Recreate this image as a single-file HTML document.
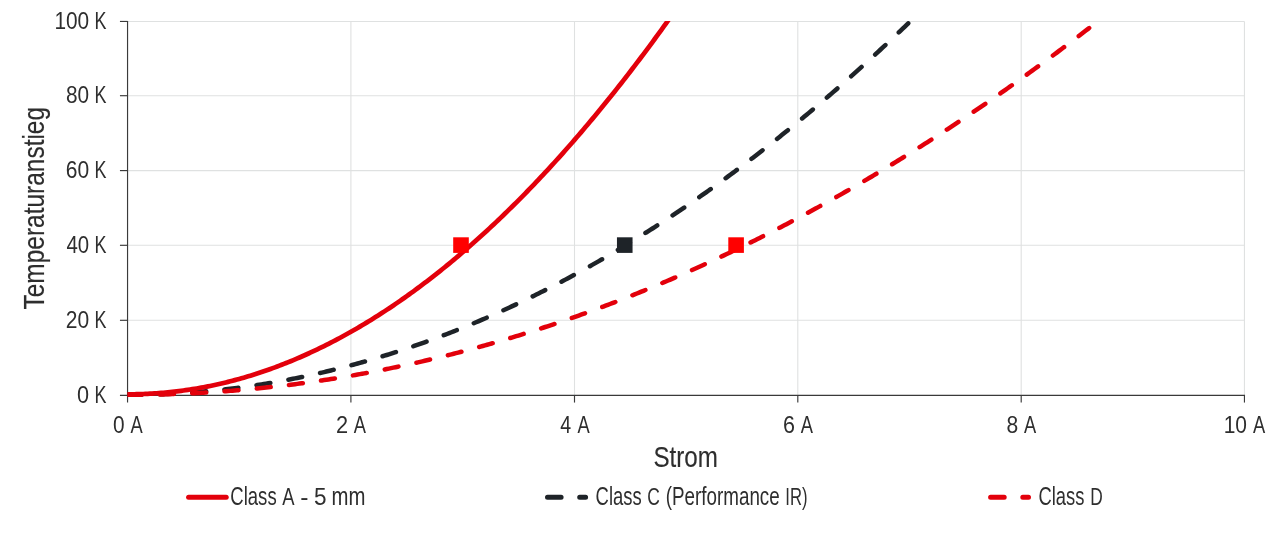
<!DOCTYPE html><html><head><meta charset="utf-8"><title>Temperaturanstieg / Strom</title>
<style>html,body{margin:0;padding:0;background:#fff}svg{display:block}text{font-family:"Liberation Sans",sans-serif;fill:#2e2e2e}</style></head><body>
<svg width="1280" height="537" viewBox="0 0 1280 537">
<rect width="1280" height="537" fill="#fff"/>
<line x1="127.55" y1="320.30" x2="1244.45" y2="320.30" stroke="#dfe1e1" stroke-width="1.1"/>
<line x1="127.55" y1="245.30" x2="1244.45" y2="245.30" stroke="#dfe1e1" stroke-width="1.1"/>
<line x1="127.55" y1="170.60" x2="1244.45" y2="170.60" stroke="#dfe1e1" stroke-width="1.1"/>
<line x1="127.55" y1="95.70" x2="1244.45" y2="95.70" stroke="#dfe1e1" stroke-width="1.1"/>
<line x1="127.55" y1="21.45" x2="1244.45" y2="21.45" stroke="#dfe1e1" stroke-width="1.1"/>
<line x1="350.90" y1="21.45" x2="350.90" y2="395.30" stroke="#dfe1e1" stroke-width="1.1"/>
<line x1="574.50" y1="21.45" x2="574.50" y2="395.30" stroke="#dfe1e1" stroke-width="1.1"/>
<line x1="797.80" y1="21.45" x2="797.80" y2="395.30" stroke="#dfe1e1" stroke-width="1.1"/>
<line x1="1021.20" y1="21.45" x2="1021.20" y2="395.30" stroke="#dfe1e1" stroke-width="1.1"/>
<line x1="1244.45" y1="21.45" x2="1244.45" y2="395.30" stroke="#dfe1e1" stroke-width="1.1"/>
<g stroke="#3a3a3a" stroke-width="1.15">
<line x1="127.55" y1="20.88" x2="127.55" y2="402.55"/>
<line x1="119.95" y1="395.35" x2="1245.03" y2="395.35"/>
<line x1="119.95" y1="320.30" x2="127.55" y2="320.30"/>
<line x1="119.95" y1="245.30" x2="127.55" y2="245.30"/>
<line x1="119.95" y1="170.60" x2="127.55" y2="170.60"/>
<line x1="119.95" y1="95.70" x2="127.55" y2="95.70"/>
<line x1="119.95" y1="21.45" x2="127.55" y2="21.45"/>
<line x1="350.90" y1="395.35" x2="350.90" y2="402.55"/>
<line x1="574.50" y1="395.35" x2="574.50" y2="402.55"/>
<line x1="797.80" y1="395.35" x2="797.80" y2="402.55"/>
<line x1="1021.20" y1="395.35" x2="1021.20" y2="402.55"/>
<line x1="1244.45" y1="395.35" x2="1244.45" y2="402.55"/>
</g>
<clipPath id="c"><rect x="127.55" y="20.95" width="1122.90" height="378.85"/></clipPath>
<g clip-path="url(#c)" fill="none" stroke-width="4.5" stroke-linecap="round" stroke-linejoin="round">
<path d="M127.55,394.85 L129.78,394.85 L132.02,394.84 L134.25,394.83 L136.49,394.81 L138.72,394.78 L140.95,394.75 L143.19,394.72 L145.42,394.67 L147.65,394.63 L149.89,394.57 L152.12,394.51 L154.36,394.45 L156.59,394.38 L158.82,394.30 L161.06,394.22 L163.29,394.13 L165.52,394.03 L167.76,393.93 L169.99,393.83 L172.23,393.72 L174.46,393.60 L176.69,393.47 L178.93,393.34 L181.16,393.21 L183.40,393.07 L185.63,392.92 L187.86,392.77 L190.10,392.61 L192.33,392.44 L194.56,392.27 L196.80,392.09 L199.03,391.91 L201.27,391.72 L203.50,391.53 L205.73,391.33 L207.97,391.12 L210.20,390.91 L212.43,390.69 L214.67,390.46 L216.90,390.23 L219.14,390.00 L221.37,389.75 L223.60,389.50 L225.84,389.25 L228.07,388.99 L230.30,388.72 L232.54,388.45 L234.77,388.17 L237.01,387.89 L239.24,387.59 L241.47,387.30 L243.71,387.00 L245.94,386.69 L248.18,386.37 L250.41,386.05 L252.64,385.72 L254.88,385.39 L257.11,385.05 L259.34,384.71 L261.58,384.36 L263.81,384.00 L266.05,383.64 L268.28,383.27 L270.51,382.89 L272.75,382.51 L274.98,382.12 L277.21,381.73 L279.45,381.33 L281.68,380.93 L283.92,380.51 L286.15,380.10 L288.38,379.67 L290.62,379.24 L292.85,378.81 L295.09,378.36 L297.32,377.92 L299.55,377.46 L301.79,377.00 L304.02,376.54 L306.25,376.06 L308.49,375.59 L310.72,375.10 L312.96,374.61 L315.19,374.11 L317.42,373.61 L319.66,373.10 L321.89,372.59 L324.12,372.07 L326.36,371.54 L328.59,371.01 L330.83,370.47 L333.06,369.92 L335.29,369.37 L337.53,368.81 L339.76,368.25 L341.99,367.68 L344.23,367.10 L346.46,366.52 L348.70,365.93 L350.93,365.34 L353.16,364.74 L355.40,364.13 L357.63,363.52 L359.87,362.90 L362.10,362.28 L364.33,361.64 L366.57,361.01 L368.80,360.36 L371.03,359.71 L373.27,359.06 L375.50,358.40 L377.74,357.73 L379.97,357.06 L382.20,356.38 L384.44,355.69 L386.67,355.00 L388.90,354.30 L391.14,353.59 L393.37,352.88 L395.61,352.17 L397.84,351.44 L400.07,350.71 L402.31,349.98 L404.54,349.24 L406.78,348.49 L409.01,347.74 L411.24,346.98 L413.48,346.21 L415.71,345.44 L417.94,344.66 L420.18,343.88 L422.41,343.08 L424.65,342.29 L426.88,341.49 L429.11,340.68 L431.35,339.86 L433.58,339.04 L435.81,338.21 L438.05,337.38 L440.28,336.54 L442.52,335.69 L444.75,334.84 L446.98,333.98 L449.22,333.12 L451.45,332.25 L453.68,331.37 L455.92,330.49 L458.15,329.60 L460.39,328.70 L462.62,327.80 L464.85,326.89 L467.09,325.98 L469.32,325.06 L471.56,324.13 L473.79,323.20 L476.02,322.26 L478.26,321.31 L480.49,320.36 L482.72,319.41 L484.96,318.44 L487.19,317.47 L489.43,316.50 L491.66,315.51 L493.89,314.53 L496.13,313.53 L498.36,312.53 L500.59,311.52 L502.83,310.51 L505.06,309.49 L507.30,308.47 L509.53,307.44 L511.76,306.40 L514.00,305.35 L516.23,304.30 L518.47,303.25 L520.70,302.18 L522.93,301.12 L525.17,300.04 L527.40,298.96 L529.63,297.87 L531.87,296.78 L534.10,295.68 L536.34,294.57 L538.57,293.46 L540.80,292.34 L543.04,291.22 L545.27,290.09 L547.50,288.95 L549.74,287.81 L551.97,286.66 L554.21,285.50 L556.44,284.34 L558.67,283.17 L560.91,282.00 L563.14,280.82 L565.37,279.63 L567.61,278.44 L569.84,277.24 L572.08,276.03 L574.31,274.82 L576.54,273.60 L578.78,272.38 L581.01,271.15 L583.25,269.91 L585.48,268.67 L587.71,267.42 L589.95,266.17 L592.18,264.90 L594.41,263.64 L596.65,262.36 L598.88,261.08 L601.12,259.80 L603.35,258.50 L605.58,257.20 L607.82,255.90 L610.05,254.59 L612.28,253.27 L614.52,251.95 L616.75,250.62 L618.99,249.28 L621.22,247.94 L623.45,246.59 L625.69,245.24 L627.92,243.87 L630.15,242.51 L632.39,241.13 L634.62,239.75 L636.86,238.37 L639.09,236.98 L641.32,235.58 L643.56,234.17 L645.79,232.76 L648.03,231.34 L650.26,229.92 L652.49,228.49 L654.73,227.06 L656.96,225.61 L659.19,224.16 L661.43,222.71 L663.66,221.25 L665.90,219.78 L668.13,218.31 L670.36,216.83 L672.60,215.34 L674.83,213.85 L677.06,212.35 L679.30,210.85 L681.53,209.34 L683.77,207.82 L686.00,206.30 L688.23,204.77 L690.47,203.23 L692.70,201.69 L694.94,200.14 L697.17,198.59 L699.40,197.02 L701.64,195.46 L703.87,193.88 L706.10,192.30 L708.34,190.72 L710.57,189.13 L712.81,187.53 L715.04,185.92 L717.27,184.31 L719.51,182.69 L721.74,181.07 L723.97,179.44 L726.21,177.81 L728.44,176.16 L730.68,174.51 L732.91,172.86 L735.14,171.20 L737.38,169.53 L739.61,167.86 L741.84,166.18 L744.08,164.49 L746.31,162.80 L748.55,161.10 L750.78,159.39 L753.01,157.68 L755.25,155.97 L757.48,154.24 L759.72,152.51 L761.95,150.78 L764.18,149.03 L766.42,147.28 L768.65,145.53 L770.88,143.77 L773.12,142.00 L775.35,140.23 L777.59,138.45 L779.82,136.66 L782.05,134.87 L784.29,133.07 L786.52,131.26 L788.75,129.45 L790.99,127.63 L793.22,125.81 L795.46,123.98 L797.69,122.14 L799.92,120.30 L802.16,118.45 L804.39,116.59 L806.63,114.73 L808.86,112.86 L811.09,110.99 L813.33,109.11 L815.56,107.22 L817.79,105.33 L820.03,103.43 L822.26,101.52 L824.50,99.61 L826.73,97.69 L828.96,95.77 L831.20,93.84 L833.43,91.90 L835.66,89.96 L837.90,88.01 L840.13,86.05 L842.37,84.09 L844.60,82.12 L846.83,80.14 L849.07,78.16 L851.30,76.17 L853.53,74.18 L855.77,72.18 L858.00,70.17 L860.24,68.16 L862.47,66.14 L864.70,64.12 L866.94,62.08 L869.17,60.05 L871.41,58.00 L873.64,55.95 L875.87,53.90 L878.11,51.83 L880.34,49.76 L882.57,47.69 L884.81,45.61 L887.04,43.52 L889.28,41.42 L891.51,39.32 L893.74,37.21 L895.98,35.10 L898.21,32.98 L900.44,30.85 L902.68,28.72 L904.91,26.58 L907.15,24.44 L908.26,23.36" stroke="#1e2328" stroke-dasharray="14 18.36"/>
<path d="M127.55,394.85 L129.78,394.85 L132.02,394.84 L134.25,394.84 L136.49,394.82 L138.72,394.81 L140.95,394.79 L143.19,394.76 L145.42,394.74 L147.65,394.71 L149.89,394.67 L152.12,394.63 L154.36,394.59 L156.59,394.54 L158.82,394.49 L161.06,394.44 L163.29,394.38 L165.52,394.32 L167.76,394.26 L169.99,394.19 L172.23,394.12 L174.46,394.04 L176.69,393.96 L178.93,393.88 L181.16,393.79 L183.40,393.70 L185.63,393.60 L187.86,393.50 L190.10,393.40 L192.33,393.29 L194.56,393.18 L196.80,393.07 L199.03,392.95 L201.27,392.82 L203.50,392.70 L205.73,392.57 L207.97,392.43 L210.20,392.30 L212.43,392.15 L214.67,392.01 L216.90,391.86 L219.14,391.71 L221.37,391.55 L223.60,391.39 L225.84,391.22 L228.07,391.05 L230.30,390.88 L232.54,390.71 L234.77,390.52 L237.01,390.34 L239.24,390.15 L241.47,389.96 L243.71,389.76 L245.94,389.56 L248.18,389.36 L250.41,389.15 L252.64,388.94 L254.88,388.72 L257.11,388.51 L259.34,388.28 L261.58,388.05 L263.81,387.82 L266.05,387.59 L268.28,387.35 L270.51,387.11 L272.75,386.86 L274.98,386.61 L277.21,386.35 L279.45,386.10 L281.68,385.83 L283.92,385.57 L286.15,385.30 L288.38,385.02 L290.62,384.74 L292.85,384.46 L295.09,384.17 L297.32,383.88 L299.55,383.59 L301.79,383.29 L304.02,382.99 L306.25,382.68 L308.49,382.37 L310.72,382.06 L312.96,381.74 L315.19,381.42 L317.42,381.10 L319.66,380.77 L321.89,380.43 L324.12,380.10 L326.36,379.75 L328.59,379.41 L330.83,379.06 L333.06,378.71 L335.29,378.35 L337.53,377.99 L339.76,377.62 L341.99,377.25 L344.23,376.88 L346.46,376.50 L348.70,376.12 L350.93,375.74 L353.16,375.35 L355.40,374.96 L357.63,374.56 L359.87,374.16 L362.10,373.76 L364.33,373.35 L366.57,372.93 L368.80,372.52 L371.03,372.10 L373.27,371.67 L375.50,371.24 L377.74,370.81 L379.97,370.37 L382.20,369.93 L384.44,369.49 L386.67,369.04 L388.90,368.59 L391.14,368.13 L393.37,367.67 L395.61,367.21 L397.84,366.74 L400.07,366.27 L402.31,365.79 L404.54,365.31 L406.78,364.83 L409.01,364.34 L411.24,363.85 L413.48,363.35 L415.71,362.85 L417.94,362.35 L420.18,361.84 L422.41,361.33 L424.65,360.81 L426.88,360.29 L429.11,359.77 L431.35,359.24 L433.58,358.71 L435.81,358.17 L438.05,357.63 L440.28,357.09 L442.52,356.54 L444.75,355.99 L446.98,355.43 L449.22,354.87 L451.45,354.31 L453.68,353.74 L455.92,353.17 L458.15,352.59 L460.39,352.01 L462.62,351.43 L464.85,350.84 L467.09,350.25 L469.32,349.65 L471.56,349.05 L473.79,348.45 L476.02,347.84 L478.26,347.23 L480.49,346.61 L482.72,345.99 L484.96,345.37 L487.19,344.74 L489.43,344.11 L491.66,343.47 L493.89,342.83 L496.13,342.19 L498.36,341.54 L500.59,340.89 L502.83,340.23 L505.06,339.57 L507.30,338.91 L509.53,338.24 L511.76,337.57 L514.00,336.89 L516.23,336.21 L518.47,335.53 L520.70,334.84 L522.93,334.15 L525.17,333.45 L527.40,332.75 L529.63,332.05 L531.87,331.34 L534.10,330.63 L536.34,329.91 L538.57,329.19 L540.80,328.47 L543.04,327.74 L545.27,327.01 L547.50,326.27 L549.74,325.53 L551.97,324.78 L554.21,324.04 L556.44,323.28 L558.67,322.53 L560.91,321.77 L563.14,321.00 L565.37,320.23 L567.61,319.46 L569.84,318.68 L572.08,317.90 L574.31,317.12 L576.54,316.33 L578.78,315.54 L581.01,314.74 L583.25,313.94 L585.48,313.14 L587.71,312.33 L589.95,311.51 L592.18,310.70 L594.41,309.88 L596.65,309.05 L598.88,308.22 L601.12,307.39 L603.35,306.55 L605.58,305.71 L607.82,304.87 L610.05,304.02 L612.28,303.16 L614.52,302.31 L616.75,301.45 L618.99,300.58 L621.22,299.71 L623.45,298.84 L625.69,297.96 L627.92,297.08 L630.15,296.19 L632.39,295.30 L634.62,294.41 L636.86,293.51 L639.09,292.61 L641.32,291.70 L643.56,290.80 L645.79,289.88 L648.03,288.96 L650.26,288.04 L652.49,287.12 L654.73,286.19 L656.96,285.25 L659.19,284.31 L661.43,283.37 L663.66,282.43 L665.90,281.48 L668.13,280.52 L670.36,279.56 L672.60,278.60 L674.83,277.63 L677.06,276.66 L679.30,275.69 L681.53,274.71 L683.77,273.73 L686.00,272.74 L688.23,271.75 L690.47,270.76 L692.70,269.76 L694.94,268.76 L697.17,267.75 L699.40,266.74 L701.64,265.72 L703.87,264.70 L706.10,263.68 L708.34,262.65 L710.57,261.62 L712.81,260.59 L715.04,259.55 L717.27,258.50 L719.51,257.46 L721.74,256.41 L723.97,255.35 L726.21,254.29 L728.44,253.23 L730.68,252.16 L732.91,251.09 L735.14,250.01 L737.38,248.93 L739.61,247.85 L741.84,246.76 L744.08,245.67 L746.31,244.57 L748.55,243.47 L750.78,242.37 L753.01,241.26 L755.25,240.15 L757.48,239.03 L759.72,237.91 L761.95,236.79 L764.18,235.66 L766.42,234.53 L768.65,233.39 L770.88,232.25 L773.12,231.10 L775.35,229.96 L777.59,228.80 L779.82,227.65 L782.05,226.48 L784.29,225.32 L786.52,224.15 L788.75,222.98 L790.99,221.80 L793.22,220.62 L795.46,219.43 L797.69,218.24 L799.92,217.05 L802.16,215.85 L804.39,214.65 L806.63,213.44 L808.86,212.23 L811.09,211.02 L813.33,209.80 L815.56,208.58 L817.79,207.35 L820.03,206.12 L822.26,204.89 L824.50,203.65 L826.73,202.41 L828.96,201.16 L831.20,199.91 L833.43,198.66 L835.66,197.40 L837.90,196.14 L840.13,194.87 L842.37,193.60 L844.60,192.32 L846.83,191.05 L849.07,189.76 L851.30,188.47 L853.53,187.18 L855.77,185.89 L858.00,184.59 L860.24,183.29 L862.47,181.98 L864.70,180.67 L866.94,179.35 L869.17,178.03 L871.41,176.71 L873.64,175.38 L875.87,174.05 L878.11,172.71 L880.34,171.37 L882.57,170.03 L884.81,168.68 L887.04,167.33 L889.28,165.97 L891.51,164.61 L893.74,163.24 L895.98,161.88 L898.21,160.50 L900.44,159.13 L902.68,157.74 L904.91,156.36 L907.15,154.97 L909.38,153.58 L911.61,152.18 L913.85,150.78 L916.08,149.37 L918.32,147.96 L920.55,146.55 L922.78,145.13 L925.02,143.71 L927.25,142.28 L929.48,140.85 L931.72,139.42 L933.95,137.98 L936.19,136.54 L938.42,135.09 L940.65,133.64 L942.89,132.19 L945.12,130.73 L947.35,129.27 L949.59,127.80 L951.82,126.33 L954.06,124.86 L956.29,123.38 L958.52,121.89 L960.76,120.41 L962.99,118.91 L965.22,117.42 L967.46,115.92 L969.69,114.42 L971.93,112.91 L974.16,111.40 L976.39,109.88 L978.63,108.36 L980.86,106.84 L983.10,105.31 L985.33,103.78 L987.56,102.24 L989.80,100.70 L992.03,99.16 L994.26,97.61 L996.50,96.05 L998.73,94.50 L1000.97,92.94 L1003.20,91.37 L1005.43,89.80 L1007.67,88.23 L1009.90,86.65 L1012.13,85.07 L1014.37,83.49 L1016.60,81.90 L1018.84,80.30 L1021.07,78.71 L1023.30,77.10 L1025.54,75.50 L1027.77,73.89 L1030.01,72.27 L1032.24,70.66 L1034.47,69.03 L1036.71,67.41 L1038.94,65.78 L1041.17,64.14 L1043.41,62.50 L1045.64,60.86 L1047.88,59.21 L1050.11,57.56 L1052.34,55.91 L1054.58,54.25 L1056.81,52.59 L1059.04,50.92 L1061.28,49.25 L1063.51,47.57 L1065.75,45.89 L1067.98,44.21 L1070.21,42.52 L1072.45,40.83 L1074.68,39.13 L1076.91,37.43 L1079.15,35.73 L1081.38,34.02 L1083.62,32.31 L1085.85,30.59 L1088.08,28.87 L1089.20,28.01" stroke="#e3000b" stroke-dasharray="14 18.36"/>
<path d="M127.55,394.29 L129.78,394.29 L132.02,394.27 L134.25,394.24 L136.49,394.20 L138.72,394.15 L140.95,394.08 L143.19,394.00 L145.42,393.91 L147.65,393.81 L149.89,393.70 L152.12,393.57 L154.36,393.44 L156.59,393.28 L158.82,393.12 L161.06,392.95 L163.29,392.76 L165.52,392.56 L167.76,392.35 L169.99,392.12 L172.23,391.89 L174.46,391.64 L176.69,391.37 L178.93,391.10 L181.16,390.81 L183.40,390.51 L185.63,390.20 L187.86,389.88 L190.10,389.54 L192.33,389.19 L194.56,388.83 L196.80,388.45 L199.03,388.06 L201.27,387.66 L203.50,387.25 L205.73,386.83 L207.97,386.39 L210.20,385.94 L212.43,385.47 L214.67,385.00 L216.90,384.51 L219.14,384.01 L221.37,383.49 L223.60,382.97 L225.84,382.43 L228.07,381.88 L230.30,381.31 L232.54,380.73 L234.77,380.14 L237.01,379.54 L239.24,378.93 L241.47,378.30 L243.71,377.66 L245.94,377.00 L248.18,376.34 L250.41,375.66 L252.64,374.96 L254.88,374.26 L257.11,373.54 L259.34,372.81 L261.58,372.07 L263.81,371.31 L266.05,370.54 L268.28,369.76 L270.51,368.97 L272.75,368.16 L274.98,367.34 L277.21,366.51 L279.45,365.66 L281.68,364.80 L283.92,363.93 L286.15,363.05 L288.38,362.15 L290.62,361.24 L292.85,360.32 L295.09,359.38 L297.32,358.43 L299.55,357.47 L301.79,356.50 L304.02,355.51 L306.25,354.51 L308.49,353.50 L310.72,352.47 L312.96,351.43 L315.19,350.38 L317.42,349.32 L319.66,348.24 L321.89,347.15 L324.12,346.05 L326.36,344.93 L328.59,343.80 L330.83,342.66 L333.06,341.50 L335.29,340.34 L337.53,339.15 L339.76,337.96 L341.99,336.75 L344.23,335.53 L346.46,334.30 L348.70,333.06 L350.93,331.80 L353.16,330.53 L355.40,329.24 L357.63,327.95 L359.87,326.64 L362.10,325.31 L364.33,323.98 L366.57,322.63 L368.80,321.27 L371.03,319.89 L373.27,318.50 L375.50,317.10 L377.74,315.69 L379.97,314.26 L382.20,312.82 L384.44,311.37 L386.67,309.90 L388.90,308.42 L391.14,306.93 L393.37,305.43 L395.61,303.91 L397.84,302.38 L400.07,300.83 L402.31,299.28 L404.54,297.71 L406.78,296.12 L409.01,294.53 L411.24,292.92 L413.48,291.30 L415.71,289.66 L417.94,288.01 L420.18,286.35 L422.41,284.68 L424.65,282.99 L426.88,281.29 L429.11,279.58 L431.35,277.85 L433.58,276.11 L435.81,274.36 L438.05,272.59 L440.28,270.81 L442.52,269.02 L444.75,267.22 L446.98,265.40 L449.22,263.57 L451.45,261.72 L453.68,259.87 L455.92,258.00 L458.15,256.11 L460.39,254.22 L462.62,252.31 L464.85,250.39 L467.09,248.45 L469.32,246.50 L471.56,244.54 L473.79,242.57 L476.02,240.58 L478.26,238.58 L480.49,236.56 L482.72,234.54 L484.96,232.50 L487.19,230.44 L489.43,228.38 L491.66,226.30 L493.89,224.20 L496.13,222.10 L498.36,219.98 L500.59,217.85 L502.83,215.70 L505.06,213.55 L507.30,211.37 L509.53,209.19 L511.76,206.99 L514.00,204.78 L516.23,202.56 L518.47,200.32 L520.70,198.07 L522.93,195.81 L525.17,193.53 L527.40,191.24 L529.63,188.94 L531.87,186.62 L534.10,184.30 L536.34,181.95 L538.57,179.60 L540.80,177.23 L543.04,174.85 L545.27,172.45 L547.50,170.05 L549.74,167.63 L551.97,165.19 L554.21,162.75 L556.44,160.29 L558.67,157.81 L560.91,155.33 L563.14,152.83 L565.37,150.31 L567.61,147.79 L569.84,145.25 L572.08,142.70 L574.31,140.13 L576.54,137.55 L578.78,134.96 L581.01,132.35 L583.25,129.74 L585.48,127.10 L587.71,124.46 L589.95,121.80 L592.18,119.13 L594.41,116.45 L596.65,113.75 L598.88,111.04 L601.12,108.32 L603.35,105.58 L605.58,102.83 L607.82,100.07 L610.05,97.29 L612.28,94.50 L614.52,91.70 L616.75,88.88 L618.99,86.05 L621.22,83.21 L623.45,80.35 L625.69,77.48 L627.92,74.60 L630.15,71.71 L632.39,68.80 L634.62,65.88 L636.86,62.94 L639.09,59.99 L641.32,57.03 L643.56,54.06 L645.79,51.07 L648.03,48.07 L650.26,45.06 L652.49,42.03 L654.73,38.99 L656.96,35.93 L659.19,32.87 L661.43,29.79 L663.66,26.69 L665.90,23.59 L668.13,20.47 L670.36,17.33 L672.60,14.19 L674.83,11.03 L677.06,7.86 L679.30,4.67 L680.42,3.07" stroke="#e3000b" stroke-width="4.7"/>
</g>
<rect x="453.20" y="237.30" width="15.6" height="15.6" fill="#ff0000"/>
<rect x="616.95" y="237.30" width="15.6" height="15.6" fill="#1e2328"/>
<rect x="728.30" y="237.30" width="15.6" height="15.6" fill="#ff0000"/>
<g stroke="none">
<text transform="translate(77.10,403.00) scale(0.8957,1)" font-size="24.2">0</text>
<text transform="translate(94.62,403.00) scale(0.7423,1)" font-size="24.2">K</text>
<text transform="translate(65.71,327.95) scale(0.8687,1)" font-size="24.2">20</text>
<text transform="translate(94.62,327.95) scale(0.7423,1)" font-size="24.2">K</text>
<text transform="translate(66.38,252.95) scale(0.8431,1)" font-size="24.2">40</text>
<text transform="translate(94.62,252.95) scale(0.7423,1)" font-size="24.2">K</text>
<text transform="translate(65.71,178.25) scale(0.8687,1)" font-size="24.2">60</text>
<text transform="translate(94.62,178.25) scale(0.7423,1)" font-size="24.2">K</text>
<text transform="translate(65.94,103.35) scale(0.8600,1)" font-size="24.2">80</text>
<text transform="translate(94.62,103.35) scale(0.7423,1)" font-size="24.2">K</text>
<text transform="translate(54.38,29.10) scale(0.8613,1)" font-size="24.2">100</text>
<text transform="translate(94.62,29.10) scale(0.7423,1)" font-size="24.2">K</text>
<text transform="translate(112.89,432.50) scale(0.8609,1)" font-size="24.2">0</text>
<text transform="translate(130.46,432.50) scale(0.7562,1)" font-size="24.2">A</text>
<text transform="translate(335.97,432.50) scale(0.9000,1)" font-size="24.2">2</text>
<text transform="translate(353.81,432.50) scale(0.7563,1)" font-size="24.2">A</text>
<text transform="translate(560.30,432.50) scale(0.8082,1)" font-size="24.2">4</text>
<text transform="translate(577.41,432.50) scale(0.7563,1)" font-size="24.2">A</text>
<text transform="translate(782.89,432.50) scale(0.8899,1)" font-size="24.2">6</text>
<text transform="translate(800.71,432.50) scale(0.7563,1)" font-size="24.2">A</text>
<text transform="translate(1006.53,432.50) scale(0.8703,1)" font-size="24.2">8</text>
<text transform="translate(1024.11,432.50) scale(0.7562,1)" font-size="24.2">A</text>
<text transform="translate(1223.68,432.50) scale(0.8663,1)" font-size="24.2">10</text>
<text transform="translate(1252.91,432.50) scale(0.7563,1)" font-size="24.2">A</text>
<text transform="translate(653.47,466.90) scale(0.8199,1)" font-size="29.5" stroke="#2e2e2e" stroke-width="0.15">Strom</text>
<text transform="translate(230.32,505.30) scale(0.7412,1)" font-size="25">Class</text>
<text transform="translate(282.16,505.30) scale(0.7594,1)" font-size="24.2">A</text>
<text transform="translate(300.35,505.30) scale(1.0213,1)" font-size="24.2">-</text>
<text transform="translate(314.07,505.30) scale(0.9319,1)" font-size="24.2">5</text>
<text transform="translate(331.43,505.30) scale(0.8143,1)" font-size="25">mm</text>
<text transform="translate(595.58,505.30) scale(0.7371,1)" font-size="25">Class</text>
<text transform="translate(647.20,505.30) scale(0.7213,1)" font-size="24.2">C</text>
<text transform="translate(665.77,505.30) scale(0.7530,1)" font-size="25">(Performance</text>
<text transform="translate(785.35,505.30) scale(0.6877,1)" font-size="24.2">IR)</text>
<text transform="translate(1038.48,505.30) scale(0.7346,1)" font-size="25">Class</text>
<text transform="translate(1090.17,505.30) scale(0.7165,1)" font-size="24.2">D</text>
<g transform="translate(44.2,309) rotate(-90)"><text transform="translate(-0.52,0.00) scale(0.8294,1)" font-size="29.5" stroke="#2e2e2e" stroke-width="0.15">Temperaturanstieg</text></g>
</g>
<g fill="none" stroke-width="5" stroke-linecap="round">
<line x1="188.6" y1="497.3" x2="226.2" y2="497.3" stroke="#e3000b"/>
<line x1="547.5" y1="497.3" x2="585.6" y2="497.3" stroke="#1e2328" stroke-dasharray="13.6 18.6"/>
<line x1="990.6" y1="497.3" x2="1028.5" y2="497.3" stroke="#e3000b" stroke-dasharray="13.6 18.6"/>
</g>
</svg></body></html>
